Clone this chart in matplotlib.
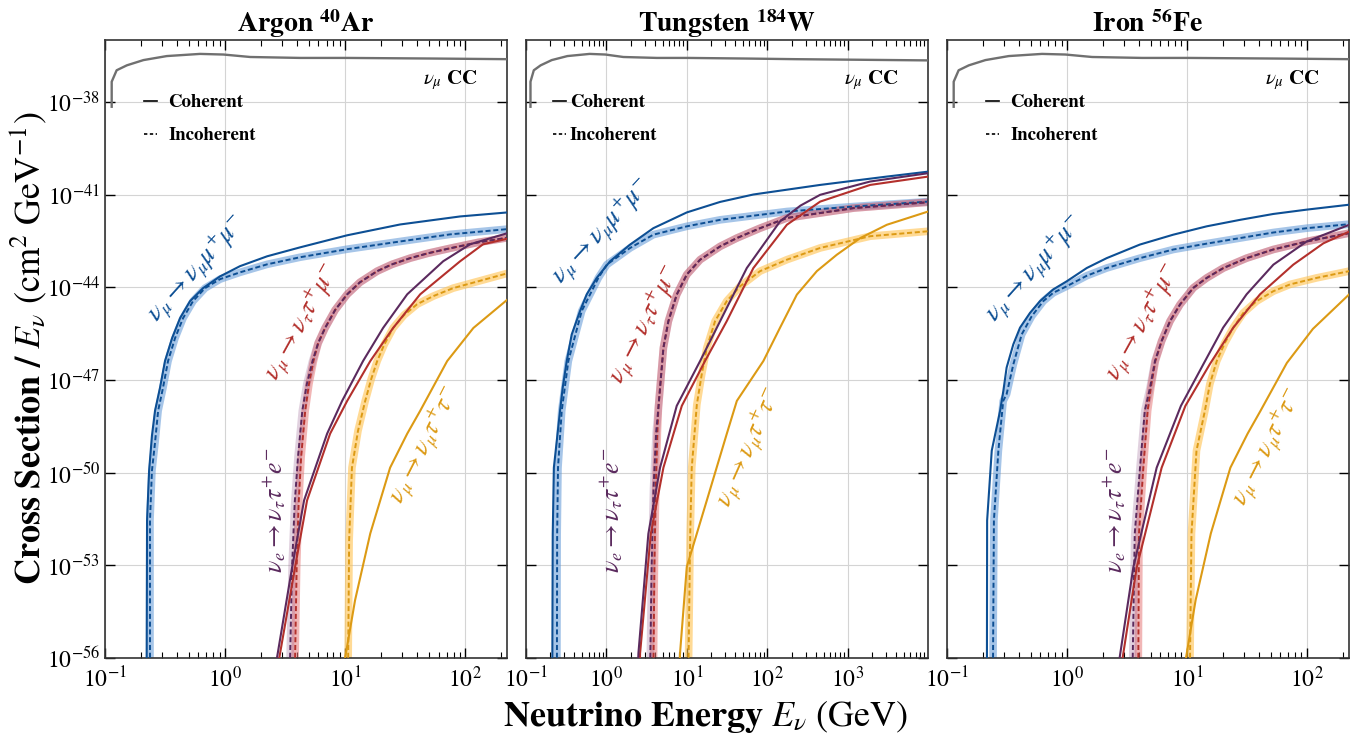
import numpy as np
import matplotlib
matplotlib.use("Agg")
import matplotlib.pyplot as plt
from matplotlib.lines import Line2D
from matplotlib.ticker import FixedLocator, NullLocator, LogLocator, LogFormatterMathtext, NullFormatter

plt.rcParams['font.family'] = 'STIXGeneral'
plt.rcParams['mathtext.fontset'] = 'stix'

# ---------------- data: energies (GeV) and log10(sigma/E) in cm^2/GeV ----------------
# nu_mu CC reference curve (same in all panels)
cc_E = [0.1137, 0.1137, 0.125, 0.152, 0.209, 0.327, 0.619, 0.968, 1.62, 4.22, 10.3, 54.4, 215, 1e4]
cc_L = [-38.16, -37.35, -36.98, -36.82, -36.65, -36.52, -36.45, -36.47, -36.55, -36.58, -36.58, -36.60, -36.62, -36.66]

# ---- Argon
ar_mumu_coh_E = [0.222, 0.224, 0.233, 0.246, 0.261, 0.287, 0.316, 0.362, 0.422, 0.511, 0.656, 0.908, 1.33, 2.24, 4.22, 10.4, 28.7, 90.8, 225]
ar_mumu_coh_L = [-57, -51.55, -49.94, -48.81, -48.0, -47.26, -46.39, -45.65, -45.0, -44.45, -44.03, -43.65, -43.32, -43.0, -42.71, -42.32, -41.97, -41.71, -41.58]
ar_mumu_inc_E = [0.237, 0.237, 0.246, 0.261, 0.277, 0.304, 0.335, 0.383, 0.447, 0.541, 0.681, 0.908, 1.33, 2.24, 4.22, 10.4, 28.7, 75, 225]
ar_mumu_inc_L = [-57, -51.55, -49.94, -49.03, -48.0, -47.26, -46.39, -45.65, -45.0, -44.45, -44.03, -43.74, -43.52, -43.26, -43.03, -42.77, -42.52, -42.29, -42.12]
ar_taumu_coh_E = [2.55, 3.83, 4.82, 7.5, 10.4, 16.2, 25.1, 42.2, 90.8, 141, 225]
ar_taumu_coh_L = [-57, -53.06, -50.90, -48.74, -47.68, -46.39, -45.32, -44.23, -43.16, -42.61, -42.43]
ar_taumu_inc_E = [3.83, 3.83, 3.95, 4.1, 4.3, 4.65, 5.0, 5.45, 5.96, 6.81, 8.25, 10.4, 13.3, 18.5, 24.6, 34.8, 49.2, 75, 128, 225]
ar_taumu_inc_L = [-57, -56, -53, -51, -49.5, -48.0, -47.13, -46.39, -45.81, -45.32, -44.74, -44.23, -43.84, -43.48, -43.26, -43.06, -42.90, -42.74, -42.55, -42.40]
ar_taue_coh_E = [2.45, 3.62, 4.55, 7.08, 9.44, 14.1, 20.7, 32.9, 65.6, 110, 225]
ar_taue_coh_L = [-57, -53.06, -50.90, -48.74, -47.68, -46.39, -45.32, -44.23, -43.16, -42.61, -42.25]
ar_taue_inc_E = [3.48, 3.48, 3.62, 3.8, 4.05, 4.4, 4.8, 5.35, 5.96, 6.81, 8.25, 10.4, 13.3, 18.5, 24.6, 34.8, 49.2, 75, 128, 225]
ar_taue_inc_L = [-57, -56, -53, -51, -49.5, -48.0, -47.13, -46.39, -45.81, -45.32, -44.74, -44.23, -43.84, -43.48, -43.26, -43.06, -42.90, -42.74, -42.55, -42.40]
ar_tautau_coh_E = [9.4, 10.0, 12.1, 16.2, 23.7, 32.9, 42.2, 70.8, 117, 225]
ar_tautau_coh_L = [-56.6, -56, -54.13, -51.97, -49.84, -48.74, -48.0, -46.39, -45.32, -44.40]
ar_tautau_inc_E = [10.6, 10.6, 10.8, 11.4, 12.8, 14.7, 16.5, 18.5, 21.1, 25.1, 31.0, 39.8, 54.1, 79.4, 128, 225]
ar_tautau_inc_L = [-57, -56, -52.19, -49.84, -48.65, -47.68, -46.97, -46.39, -45.87, -45.32, -44.90, -44.55, -44.29, -44.03, -43.81, -43.55]

# ---- Tungsten
w_mumu_coh_E = [0.212, 0.215, 0.222, 0.265, 0.286, 0.321, 0.370, 0.470, 0.569, 0.757, 1.11, 1.97, 3.83, 9.98, 25.9, 67.1, 454, 3060, 1e4]
w_mumu_coh_L = [-57, -52, -49.84, -48.0, -47.25, -46.39, -45.53, -44.77, -44.23, -43.70, -43.16, -42.62, -42.09, -41.58, -41.24, -41.0, -40.69, -40.42, -40.26]
w_mumu_inc_E = [0.242, 0.244, 0.25, 0.278, 0.336, 0.493, 0.793, 1.01, 1.97, 3.83, 9.98, 25.9, 175, 1180, 1e4]
w_mumu_inc_L = [-57, -52, -49.84, -48.0, -46.39, -44.77, -43.70, -43.27, -42.73, -42.30, -42.03, -41.82, -41.55, -41.39, -41.23]
w_taumu_coh_E = [2.55, 2.62, 3.56, 5.11, 8.65, 16.8, 31.3, 67.1, 175, 454, 1900, 1e4]
w_taumu_coh_L = [-57, -55.85, -51.98, -49.84, -47.84, -46.39, -45.10, -43.38, -41.98, -41.23, -40.69, -40.42]
w_taumu_inc_E = [3.85, 3.85, 3.95, 4.1, 4.3, 4.43, 5.11, 5.89, 7.48, 9.98, 14.6, 25.9, 41.8, 81.3, 175, 1180, 1e4]
w_taumu_inc_L = [-57, -56, -53, -50.5, -48.7, -47.89, -45.96, -45.10, -44.24, -43.59, -43.11, -42.68, -42.41, -42.09, -41.76, -41.44, -41.25]
w_taue_coh_E = [2.4, 2.50, 3.32, 4.64, 7.48, 14.6, 25.9, 55.6, 144, 258, 454, 1900, 1e4]
w_taue_coh_L = [-57, -55.84, -51.98, -49.84, -47.84, -46.39, -45.1, -43.38, -41.87, -41.36, -41.01, -40.58, -40.31]
w_taue_inc_E = [3.51, 3.51, 3.65, 3.85, 4.15, 4.43, 5.11, 5.89, 7.48, 9.98, 14.6, 25.9, 41.8, 81.3, 175, 1180, 1e4]
w_taue_inc_L = [-57, -56, -53, -50.5, -48.7, -47.89, -45.96, -45.10, -44.24, -43.59, -43.11, -42.68, -42.41, -42.09, -41.76, -41.44, -41.25]
w_tautau_coh_E = [7.9, 8.22, 9.98, 17.7, 31.3, 41.8, 89.3, 144, 233, 413, 731, 1430, 3060, 1e4]
w_tautau_coh_L = [-57, -55.85, -53.05, -50.90, -48.75, -47.68, -46.39, -45.31, -44.24, -43.48, -42.95, -42.41, -41.98, -41.55]
w_tautau_inc_E = [10.5, 10.5, 11.0, 11.5, 13.3, 15.3, 17.7, 22.4, 31.3, 45.9, 81.3, 175, 454, 1900, 1e4]
w_tautau_inc_L = [-57, -56, -51.98, -49.84, -47.8, -46.82, -45.96, -45.10, -44.45, -43.97, -43.48, -43.11, -42.73, -42.35, -42.19]

# ---- Iron
fe_mumu_coh_E = [0.215, 0.216, 0.236, 0.277, 0.295, 0.314, 0.357, 0.406, 0.492, 0.596, 0.769, 0.994, 1.46, 2.14, 4.05, 7.69, 14.6, 27.7, 52.4, 99.4, 225]
fe_mumu_coh_L = [-57, -51.55, -49.29, -48.0, -47.35, -46.60, -45.85, -45.31, -44.83, -44.45, -44.07, -43.81, -43.38, -43.06, -42.62, -42.30, -42.03, -41.82, -41.63, -41.49, -41.33]
fe_mumu_inc_E = [0.241, 0.246, 0.268, 0.294, 0.314, 0.357, 0.419, 0.508, 0.635, 0.769, 0.994, 1.46, 2.14, 4.05, 7.69, 14.6, 27.7, 52.4, 99.4, 225]
fe_mumu_inc_L = [-57, -51.55, -49.29, -47.68, -47.46, -46.50, -45.53, -44.94, -44.45, -44.18, -43.97, -43.63, -43.38, -43.06, -42.78, -42.59, -42.41, -42.23, -42.09, -41.96]
fe_taumu_coh_E = [2.75, 3.81, 6.15, 9.7, 15.5, 24.3, 40.6, 76.9, 137, 225]
fe_taumu_coh_L = [-56.6, -53.07, -49.84, -47.84, -46.49, -45.31, -44.23, -43.27, -42.58, -42.2]
fe_taumu_inc_E = [3.93, 3.93, 3.98, 4.33, 4.7, 5.0, 5.45, 6.15, 7.22, 8.75, 11.3, 14.6, 20.1, 31.4, 52.4, 99.4, 225]
fe_taumu_inc_L = [-57, -56, -51.98, -49.84, -48.0, -47.25, -46.39, -45.74, -45.10, -44.56, -44.02, -43.70, -43.38, -43.06, -42.78, -42.52, -42.25]
fe_taue_coh_E = [2.6, 3.57, 5.59, 8.9, 13.7, 20.0, 31.4, 52.5, 99.4, 225]
fe_taue_coh_L = [-56.6, -53.07, -49.84, -47.84, -46.49, -45.31, -44.23, -43.27, -42.52, -41.98]
fe_taue_inc_E = [3.53, 3.53, 3.67, 4.06, 4.45, 4.92, 5.41, 6.15, 7.22, 8.75, 11.3, 14.6, 20.1, 31.4, 52.4, 99.4, 225]
fe_taue_inc_L = [-57, -56, -51.98, -49.84, -48.0, -47.25, -46.39, -45.74, -45.10, -44.56, -44.02, -43.70, -43.38, -43.06, -42.78, -42.52, -42.25]
fe_tautau_coh_E = [9.3, 9.81, 11.8, 15.8, 23.0, 32.0, 41.0, 68.0, 112, 225]
fe_tautau_coh_L = [-56.6, -56, -54.13, -51.97, -49.84, -48.74, -48.0, -46.45, -45.35, -44.23]
fe_tautau_inc_E = [10.6, 10.6, 10.9, 12.0, 14.1, 15.5, 17.7, 20.7, 24.3, 29.5, 38.1, 52.4, 72.2, 120, 225]
fe_tautau_inc_L = [-57, -56, -51.98, -49.29, -48.0, -47.14, -46.39, -45.80, -45.31, -44.83, -44.45, -44.13, -43.91, -43.70, -43.48]

titles = [r'Argon $^{\mathbf{40}}$Ar', r'Tungsten $^{\mathbf{184}}$W', r'Iron $^{\mathbf{56}}$Fe']
xmax = [223, 9.95e3, 224]
yticks = [1e-56, 1e-53, 1e-50, 1e-47, 1e-44, 1e-41, 1e-38]

labels = {
    'mumu': r'$\nu_\mu \rightarrow \nu_\mu \mu^{+} \mu^{-}$',
    'taumu': r'$\nu_\mu \rightarrow \nu_\tau \tau^{+} \mu^{-}$',
    'taue': r'$\nu_e \rightarrow \nu_\tau \tau^{+} e^{-}$',
    'tautau': r'$\nu_\mu \rightarrow \nu_\mu \tau^{+} \tau^{-}$',
}

COL = {'mumu': '#0d4f94', 'taumu': '#b3302c', 'taue': '#5b2a5e', 'tautau': '#dc9a14'}
BAND = {'mumu': '#5d96d6', 'taumu': '#e67a7a', 'taue': '#8a4a80', 'tautau': '#ffc24f'}
BAND_ALPHA = {'mumu': 0.55, 'taumu': 0.55, 'taue': 0.25, 'tautau': 0.6}
GRAY = '#707070'

panels = [
    {'mumu': (ar_mumu_coh_E, ar_mumu_coh_L, ar_mumu_inc_E, ar_mumu_inc_L),
     'taumu': (ar_taumu_coh_E, ar_taumu_coh_L, ar_taumu_inc_E, ar_taumu_inc_L),
     'taue': (ar_taue_coh_E, ar_taue_coh_L, ar_taue_inc_E, ar_taue_inc_L),
     'tautau': (ar_tautau_coh_E, ar_tautau_coh_L, ar_tautau_inc_E, ar_tautau_inc_L)},
    {'mumu': (w_mumu_coh_E, w_mumu_coh_L, w_mumu_inc_E, w_mumu_inc_L),
     'taumu': (w_taumu_coh_E, w_taumu_coh_L, w_taumu_inc_E, w_taumu_inc_L),
     'taue': (w_taue_coh_E, w_taue_coh_L, w_taue_inc_E, w_taue_inc_L),
     'tautau': (w_tautau_coh_E, w_tautau_coh_L, w_tautau_inc_E, w_tautau_inc_L)},
    {'mumu': (fe_mumu_coh_E, fe_mumu_coh_L, fe_mumu_inc_E, fe_mumu_inc_L),
     'taumu': (fe_taumu_coh_E, fe_taumu_coh_L, fe_taumu_inc_E, fe_taumu_inc_L),
     'taue': (fe_taue_coh_E, fe_taue_coh_L, fe_taue_inc_E, fe_taue_inc_L),
     'tautau': (fe_tautau_coh_E, fe_tautau_coh_L, fe_tautau_inc_E, fe_tautau_inc_L)},
]

# label placement (axes fraction) and rotation per panel
label_pos = [
    {'mumu': (0.229, 0.630, 48), 'taumu': (0.490, 0.544, 61), 'taue': (0.423, 0.239, 90), 'tautau': (0.797, 0.345, 63)},
    {'mumu': (0.189, 0.690, 47), 'taumu': (0.296, 0.539, 63), 'taue': (0.214, 0.239, 90), 'tautau': (0.557, 0.341, 66)},
    {'mumu': (0.219, 0.630, 48), 'taumu': (0.488, 0.544, 61), 'taue': (0.418, 0.239, 90), 'tautau': (0.799, 0.341, 63)},
]
legend_anchor = [(0.055, 0.94), (0.025, 0.94), (0.055, 0.94)]

fig = plt.figure(figsize=(13.54, 7.36), dpi=100)
lefts = [105 / 1354, 526 / 1354, 947 / 1354]
W = 402 / 1354
B = 1 - 658 / 736
H = 618 / 736

for i in range(3):
    ax = fig.add_axes([lefts[i], B, W, H])
    ax.set_xscale('log')
    ax.set_yscale('log')
    ax.set_xlim(0.1, xmax[i])
    ax.set_ylim(1e-56, 1e-36)
    ax.grid(True, which='major', color='#d4d4d4', lw=0.8, zorder=0)
    ax.set_axisbelow(True)

    # CC reference
    ax.plot(cc_E, 10.0 ** np.array(cc_L), color=GRAY, lw=1.7, zorder=3)

    for key in ['mumu', 'taumu', 'taue', 'tautau']:
        cE, cL, iE, iL = panels[i][key]
        ax.plot(iE, 10.0 ** np.array(iL), color=BAND[key], lw=5.5, alpha=BAND_ALPHA[key],
                solid_capstyle='butt', solid_joinstyle='round', zorder=2)
    for key in ['mumu', 'taumu', 'taue', 'tautau']:
        cE, cL, iE, iL = panels[i][key]
        ax.plot(iE, 10.0 ** np.array(iL), color=COL[key], lw=1.4,
                linestyle=(0, (2.6, 1.4)), zorder=4)
        ax.plot(cE, 10.0 ** np.array(cL), color=COL[key], lw=1.5, zorder=5,
                solid_joinstyle='round')
        px, py, rot = label_pos[i][key]
        ax.text(px, py, labels[key], transform=ax.transAxes, color=COL[key],
                fontsize=18.5, rotation=rot, rotation_mode='anchor',
                ha='center', va='center', zorder=6)

    ax.text(0.79, 0.935, r'$\nu_\mu$ CC', transform=ax.transAxes, fontsize=15,
            fontweight='bold', ha='left', va='center')

    handles = [Line2D([], [], color='black', lw=1.2),
               Line2D([], [], color='black', lw=1.2, linestyle=(0, (2, 1.5)))]
    ax.legend(handles, ['Coherent', 'Incoherent'], loc='upper left',
              bbox_to_anchor=legend_anchor[i], frameon=False,
              handlelength=0.7, handletextpad=0.6 if i != 1 else 0.2,
              labelspacing=0.85, prop={'weight': 'bold', 'size': 13.5, 'family': 'STIXGeneral'})

    ax.set_title(titles[i], fontsize=20, fontweight='bold', pad=6)

    ax.yaxis.set_major_locator(FixedLocator(yticks))
    ax.yaxis.set_minor_locator(NullLocator())
    ax.yaxis.set_major_formatter(LogFormatterMathtext())
    ax.xaxis.set_major_locator(LogLocator(base=10, numticks=12))
    ax.xaxis.set_minor_locator(LogLocator(base=10, subs=np.arange(2, 10), numticks=12))
    ax.xaxis.set_minor_formatter(NullFormatter())
    ax.tick_params(which='both', direction='in', top=True, right=True, labelsize=17)
    ax.tick_params(which='major', length=7, width=1.0)
    ax.tick_params(which='minor', length=4, width=0.8)
    ax.tick_params(axis='x', pad=6)
    if i > 0:
        ax.tick_params(axis='y', labelleft=False)
    for s in ax.spines.values():
        s.set_color('#333333')
        s.set_linewidth(1.2)

fig.text(28 / 1354, 1 - 348 / 736,
         r'$\mathbf{Cross\ Section\ /}\ E_\nu\ \mathrm{(cm^{2}\ GeV^{-1})}$',
         rotation=90, fontsize=26, ha='center', va='center')
fig.text(706 / 1354, 1 - 717 / 736,
         r'$\mathbf{Neutrino\ Energy}\ E_\nu\ \mathrm{(GeV)}$',
         fontsize=26, ha='center', va='center')

fig.savefig('out.png', dpi=100)
